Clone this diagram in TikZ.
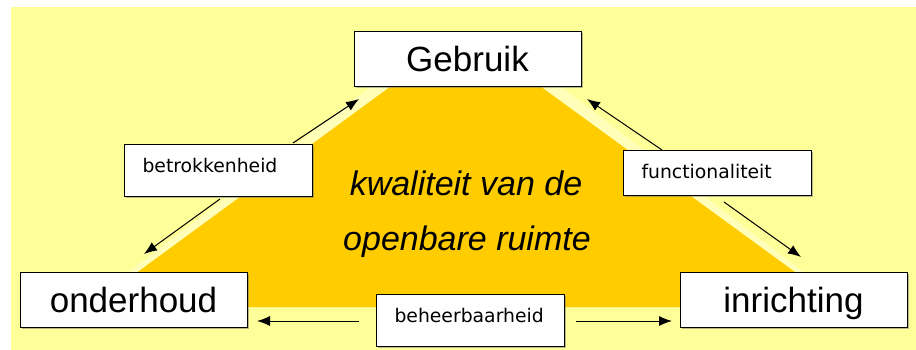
\documentclass[tikz,border=0pt]{standalone}
\usepackage{fontspec}
\setmainfont{Liberation Sans}
\newfontfamily\labelfont{DejaVu Sans}
\usetikzlibrary{arrows.meta,shadows}

\definecolor{achtergrond}{HTML}{FFFF99}
\definecolor{kern}{HTML}{FFCC00}
\definecolor{rand}{HTML}{FFFFBA}

\begin{document}
\begin{tikzpicture}[
            x=1pt,y=-1pt,
            schaduw/.style={drop shadow={shadow xshift=1.5pt,shadow yshift=-1.5pt,fill=black!55}},
            hoofd/.style={draw,line width=1pt,fill=white,schaduw,minimum width=227pt,minimum height=55pt,
                text height=25pt,text depth=0pt,font=\fontsize{35}{42}\selectfont},
            lbl/.style={draw,line width=1pt,fill=white,schaduw,anchor=north west,text width=152pt,align=left,
                inner xsep=18pt,inner ysep=14pt,text height=14pt,text depth=10pt,
                font=\labelfont\fontsize{18.8}{22}\selectfont},
            midden/.style={anchor=base,font=\itshape\fontsize{34}{40}\selectfont},
            pijl/.style={-{Latex[length=13pt,width=10pt]},line width=1pt}
        ]
            \useasboundingbox (0,0) rectangle (916,350);
            \fill[white] (0,0) rectangle (916,350);
            \fill[achtergrond] (11,7) rectangle (916,350);

            % driehoek met lichte rand
            \fill[rand] (406,60) -- (526,60) -- (849,307) -- (83,307) -- cycle;
            \fill[kern] (413,70) -- (518,70) -- (843,307) -- (90,307) -- cycle;

            \node[midden] (kwal1) at (466,195) {kwaliteit van de};
            \node[midden] (kwal2) at (467,250) {openbare ruimte};

            \node[hoofd] (gebruik) at (467.5,59.5) {Gebruik};
            \node[hoofd] (onderhoud) at (133.5,299.5) {onderhoud};
            \node[hoofd] (inrichting) at (793.5,299.5) {inrichting};

            \node[lbl] (betr) at (124,144) {betrokkenheid};
            \node[lbl,text depth=3pt] (func) at (623,150) {functionaliteit};
            \node[lbl] (beheer) at (376,294) {beheerbaarheid};

            \coordinate (b1) at (293,143);
            \coordinate (b2) at (359,99);
            \coordinate (b3) at (220,199);
            \coordinate (b4) at (144,254);
            \coordinate (f1) at (662,150);
            \coordinate (f2) at (587,99);
            \coordinate (f3) at (724,202);
            \coordinate (f4) at (801,257);
            \coordinate (h1) at (359,321);
            \coordinate (h2) at (257,321);
            \coordinate (h3) at (576,321);
            \coordinate (h4) at (672,321);

            \draw[pijl] (b1) -- (b2);
            \draw[pijl] (b3) -- (b4);
            \draw[pijl] (f1) -- (f2);
            \draw[pijl] (f3) -- (f4);
            \draw[pijl] (h1) -- (h2);
            \draw[pijl] (h3) -- (h4);
        \end{tikzpicture}
\end{document}
